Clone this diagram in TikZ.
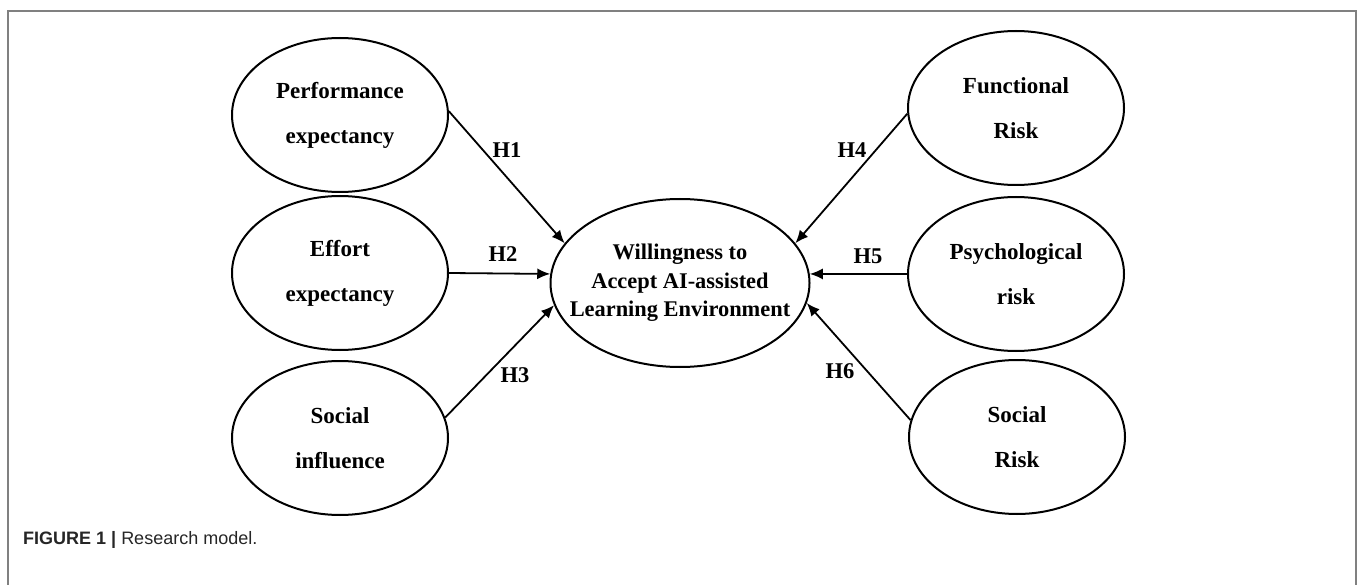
\documentclass[tikz,border=0pt]{standalone}
\usepackage{fontspec}
\setmainfont{Liberation Serif}
\newfontfamily\capfont{Liberation Sans}
\usepackage{tikz}
\usetikzlibrary{arrows.meta, shapes.geometric}

\begin{document}
\begin{tikzpicture}[
    x=1pt, y=-1pt,
    construct/.style=
        {ellipse, draw, line width=2pt, minimum width=216pt,
         minimum height=154pt, align=center, inner sep=0pt,
         font=\bfseries\fontsize{23}{45}\selectfont},
    hyp/.style=
        {draw, line width=1.8pt, -{Latex[length=13pt,width=11pt]}},
    hlabel/.style=
        {font=\bfseries\fontsize{22.5}{24}\selectfont, inner sep=0pt}]
    \useasboundingbox (0,0) rectangle (1357,585);
    % frame
    \draw [gray, line width=2pt] (8,600) -- (8,11) -- (1356,11) -- (1356,600);
    % constructs
    \node [construct] (perf) at (340,115) {Performance\\expectancy};
    \node [construct] (eff) at (340,273) {Effort\\expectancy};
    \node [construct] (soc) at (340,438) {Social\\influence};
    \node [construct] (func) at (1016,108) {Functional\\Risk};
    \node [construct] (psy) at (1016,274) {Psychological\\risk};
    \node [construct] (srisk) at (1017,437) {Social\\Risk};
    \node [construct, minimum width=259pt, minimum height=168pt,
        inner xsep=-30pt,
        font=\bfseries\fontsize{22.4}{28.5}\selectfont] (will) at (680,283)
        {Willingness to\\Accept AI-assisted\\Learning Environment};
    % hypotheses
    \draw [hyp] (perf.2) -- (will.161);
    \draw [hyp] (eff.east) -- (will.176);
    \draw [hyp] (soc.11) -- (will.190);
    \draw [hyp] (func.183) -- (will.19);
    \draw [hyp] (psy.west) -- (will.4);
    \draw [hyp] (srisk.171) -- (will.351);
    \node [hlabel] (h1) at (507,150) {H1};
    \node [hlabel] (h2) at (503,254) {H2};
    \node [hlabel] (h3) at (515,375) {H3};
    \node [hlabel] (h4) at (852,150) {H4};
    \node [hlabel] (h5) at (868,256) {H5};
    \node [hlabel] (h6) at (840,371) {H6};
    % caption
    \node [anchor=west, inner sep=0pt, text=black!85,
        font=\capfont\fontsize{18}{20}\selectfont] (cap) at (23,540)
        {\textbf{FIGURE 1 |} Research model.};
\end{tikzpicture}
\end{document}
